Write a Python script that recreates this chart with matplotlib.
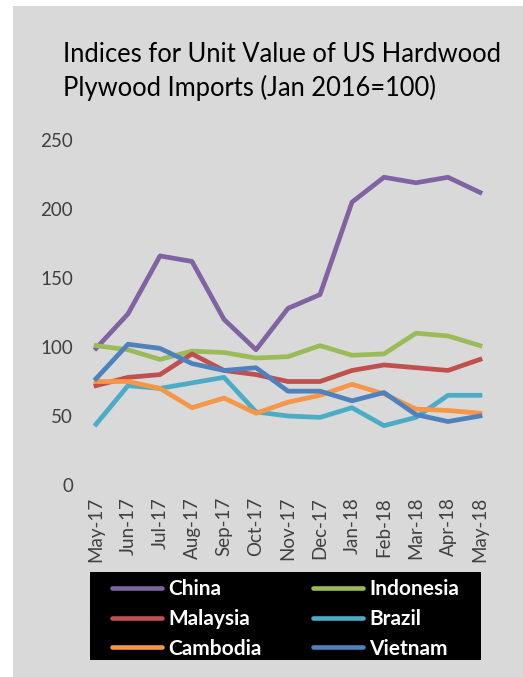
import matplotlib
matplotlib.use("Agg")
import matplotlib.pyplot as plt
from matplotlib.patches import Rectangle
from matplotlib.lines import Line2D

months = ["May-17", "Jun-17", "Jul-17", "Aug-17", "Sep-17", "Oct-17", "Nov-17",
          "Dec-17", "Jan-18", "Feb-18", "Mar-18", "Apr-18", "May-18"]
china = [99, 124, 166, 162, 120, 98, 128, 138, 205, 223, 219, 223, 212]
indonesia = [101, 98, 91, 97, 96, 92, 93, 101, 94, 95, 110, 108, 101]
malaysia = [72, 78, 80, 95, 83, 80, 75, 75, 83, 87, 85, 83, 91]
brazil = [44, 72, 70, 74, 78, 53, 50, 49, 56, 43, 49, 65, 65]
cambodia = [75, 75, 70, 56, 63, 52, 60, 65, 73, 66, 55, 54, 52]
vietnam = [77, 102, 99, 88, 83, 85, 68, 68, 61, 67, 51, 46, 50]
yticks = [0, 50, 100, 150, 200, 250]

series = {"China": (china, "#8064A2"), "Indonesia": (indonesia, "#9BBB59"),
          "Malaysia": (malaysia, "#C0504D"), "Brazil": (brazil, "#4BACC6"),
          "Cambodia": (cambodia, "#F79646"), "Vietnam": (vietnam, "#4F81BD")}
# legend laid out row-wise: column 1 then column 2
legend_order = ["China", "Malaysia", "Cambodia", "Indonesia", "Brazil", "Vietnam"]

W, H = 523, 677
fig = plt.figure(figsize=(W / 100, H / 100), dpi=100)
fig.patch.set_facecolor("white")
fig.patches.append(Rectangle((13 / W, 0), 1 - 13 / W, 1 - 6 / H, transform=fig.transFigure,
                             facecolor="#d9d9d9", edgecolor="none", zorder=-10))
# black legend box
fig.patches.append(Rectangle((90 / W, 1 - 660 / H), (481 - 90) / W, (660 - 572) / H,
                             transform=fig.transFigure, facecolor="black",
                             edgecolor="none", zorder=-5))

ax = fig.add_axes([96 / W, 1 - 485 / H, (480 - 96) / W, (485 - 140) / H])
ax.set_facecolor("none")
ax.set_zorder(1)
x = list(range(len(months)))
for name, (vals, col) in series.items():
    ax.plot(x, vals, color=col, lw=3.4, solid_joinstyle="round", clip_on=False)

ax.set_xlim(0, 12)
ax.set_ylim(0, 250)
ax.set_yticks(yticks)
ax.set_yticklabels([str(v) for v in yticks])
ax.set_xticks(x)
ax.set_xticklabels(months, rotation=90)
for s in ax.spines.values():
    s.set_visible(False)
ax.tick_params(axis="both", length=0, colors="#404040", labelsize=13.5)
ax.tick_params(axis="y", pad=16.5)
ax.tick_params(axis="x", pad=8.5)
for t in ax.get_xticklabels() + ax.get_yticklabels():
    t.set_fontfamily("Lato")

fig.text(63 / W, 1 - 55 / H, "Indices for Unit Value of US Hardwood", fontfamily="Lato",
         fontsize=18.4, color="black", ha="left", va="center")
fig.text(63 / W, 1 - 88 / H, "Plywood Imports (Jan 2016=100)", fontfamily="Lato",
         fontsize=18.4, color="black", ha="left", va="center")

fs = 15
handles = [Line2D([], [], color=series[n][1], lw=3.3, solid_capstyle="round") for n in legend_order]
leg = fig.legend(handles, legend_order, ncol=2, loc="upper left",
                 bbox_to_anchor=(112 / W, 1 - 579 / H), frameon=False,
                 handlelength=2.4, handletextpad=0.3, labelspacing=0.47,
                 columnspacing=2.45, borderaxespad=0, borderpad=0,
                 prop={"family": "Lato", "weight": "bold", "size": fs})
for t in leg.get_texts():
    t.set_color("white")

fig.savefig("out.png", dpi=100)
